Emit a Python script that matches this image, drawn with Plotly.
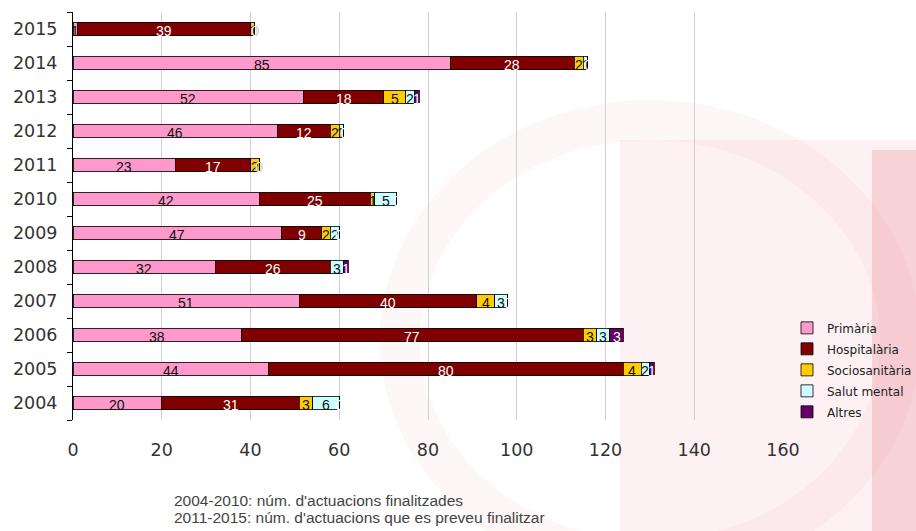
import plotly.graph_objects as go

years = ["2004", "2005", "2006", "2007", "2008", "2009", "2010", "2011", "2012", "2013", "2014", "2015"]
primaria = [20, 44, 38, 51, 32, 47, 42, 23, 46, 52, 85, 1]
hospitalaria = [31, 80, 77, 40, 26, 9, 25, 17, 12, 18, 28, 39]
sociosanitaria = [3, 4, 3, 4, None, 2, 1, 2, 2, 5, 2, 1]
salut_mental = [6, 2, 3, 3, 3, 2, 5, 0, 1, 2, 1, 0]
altres = [0, 1, 3, 0, 1, 0, 0, 0, 0, 1, 0, 0]

series = [
    ("Primària", primaria, "#FF99CC", "#111111"),
    ("Hospitalària", hospitalaria, "#800000", "#FFFFFF"),
    ("Sociosanitària", sociosanitaria, "#FFCC00", "#111111"),
    ("Salut mental", salut_mental, "#CCFFFF", "#111111"),
    ("Altres", altres, "#660066", "#FFFFFF"),
]

W, H = 916, 531
L, R, T, B = 73, 783, 12, 420

fig = go.Figure()
cum = [0.0] * len(years)
annotations = []
for name, vals, color, tcolor in series:
    fig.add_trace(go.Bar(
        y=years, x=[v if v is not None else 0 for v in vals], name=name, orientation="h",
        legendgroup=name,
        marker=dict(color=color, line=dict(color="#000000", width=0.8)),
        hoverinfo="x+name",
    ))
    for i, v in enumerate(vals):
        if v is None:
            continue
        annotations.append(dict(
            x=cum[i] + v / 2.0, y=i, xref="x", yref="y",
            text=str(v), showarrow=False, yshift=-2,
            font=dict(family="Liberation Sans, Arial", size=14, color=tcolor),
        ))
        cum[i] += v


def px(xp):
    return (xp - L) / (R - L)


def py(yp):
    return (B - yp) / (B - T)


shapes = [
    dict(type="rect", xref="paper", yref="paper", x0=px(620), x1=px(916), y0=py(531), y1=py(140),
         fillcolor="rgba(235,120,135,0.10)", line=dict(width=0), layer="below"),
    dict(type="rect", xref="paper", yref="paper", x0=px(872), x1=px(916), y0=py(531), y1=py(150),
         fillcolor="rgba(220,70,85,0.18)", line=dict(width=0), layer="below"),
    dict(type="circle", xref="paper", yref="paper", x0=px(400), x1=px(900), y0=py(560), y1=py(120),
         fillcolor="rgba(0,0,0,0)", line=dict(width=40, color="rgba(235,120,135,0.06)"), layer="below"),
]

annotations.append(dict(
    x=px(172), y=py(500), xref="paper", yref="paper", xanchor="left", yanchor="middle",
    text="2004-2010: núm. d'actuacions finalitzades", showarrow=False,
    font=dict(family="Liberation Sans, Arial", size=15.5, color="#444444")))
annotations.append(dict(
    x=px(172), y=py(517), xref="paper", yref="paper", xanchor="left", yanchor="middle",
    text="2011-2015: núm. d'actuacions que es preveu finalitzar", showarrow=False,
    font=dict(family="Liberation Sans, Arial", size=15.5, color="#444444")))

tickfont = dict(family="DejaVu Sans", size=17.5, color="#333333")

fig.update_layout(
    width=W, height=H,
    barmode="stack", bargap=0.59,
    paper_bgcolor="#FFFFFF", plot_bgcolor="rgba(0,0,0,0)",
    margin=dict(l=L, r=W - R, t=T, b=H - B, pad=0, autoexpand=False),
    font=dict(family="Liberation Sans, Arial", size=16, color="#222222"),
    showlegend=True,
    legend=dict(x=px(787), y=0.2614, xanchor="left", yanchor="top", traceorder="grouped",
                font=dict(family="DejaVu Sans", size=12, color="#222222"),
                bgcolor="rgba(0,0,0,0)", itemwidth=30, tracegroupgap=2),
    xaxis=dict(range=[0, 160], dtick=20, showgrid=True, gridcolor="#D0D0D0", gridwidth=1,
               zeroline=False, showline=False, ticks="", tickfont=tickfont,
               ticklabelstandoff=17, automargin=False),
    yaxis=dict(type="category", categoryorder="array", categoryarray=years,
               range=[-0.5, 11.5], autorange=False, automargin=False,
               showline=True, linecolor="#000000", linewidth=1, ticks="outside", ticklen=5,
               tickcolor="#000000", tickson="boundaries", showgrid=False,
               tickfont=tickfont, ticklabelstandoff=11),
    shapes=shapes, annotations=annotations,
)

fig.write_html("out.html", post_script="document.body.style.margin='0';",
               config={"displayModeBar": False})
